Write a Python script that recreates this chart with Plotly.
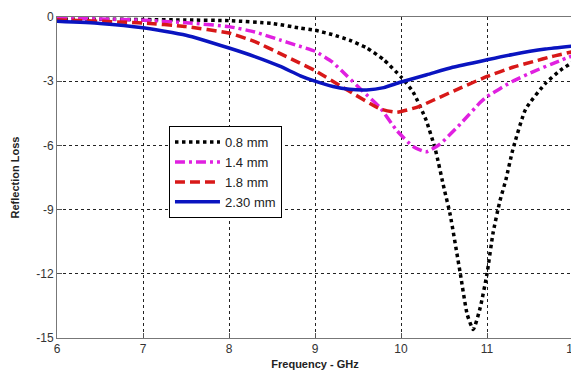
import plotly.graph_objects as go

# 0.8 mm
x_08 = [6, 6.5, 7, 7.5, 8, 8.5, 8.83, 9.0, 9.2, 9.4, 9.6, 9.8, 10.0, 10.14, 10.29, 10.4, 10.5, 10.57, 10.69, 10.77, 10.84, 10.92, 11.0, 11.07, 11.15, 11.22, 11.3, 11.45, 11.68, 11.85, 12.0]
y_08 = [-0.1, -0.1, -0.12, -0.14, -0.17, -0.3, -0.52, -0.62, -0.82, -1.08, -1.44, -2.0, -2.8, -3.5, -4.8, -6.2, -8.0, -9.2, -12.0, -13.9, -14.6, -13.6, -12.0, -10.1, -8.6, -7.6, -6.2, -4.3, -3.1, -2.5, -2.1]
# 1.4 mm
x_14 = [6, 7, 7.5, 8, 8.3, 8.59, 8.77, 9.0, 9.2, 9.37, 9.55, 9.76, 9.95, 10.14, 10.29, 10.45, 10.69, 10.92, 11.0, 11.3, 11.54, 11.75, 12]
y_14 = [-0.05, -0.15, -0.27, -0.45, -0.7, -1.07, -1.3, -1.6, -2.1, -2.75, -3.45, -4.25, -5.3, -6.05, -6.3, -5.95, -5.0, -4.0, -3.72, -3.0, -2.55, -2.2, -1.8]
# 1.8 mm
x_18 = [6, 7, 7.5, 8, 8.3, 8.59, 8.77, 9.0, 9.37, 9.76, 9.95, 10.2, 10.38, 10.7, 11.0, 11.3, 11.54, 11.75, 12]
y_18 = [-0.13, -0.28, -0.45, -0.75, -1.15, -1.7, -2.05, -2.5, -3.4, -4.3, -4.45, -4.2, -3.88, -3.3, -2.78, -2.35, -2.08, -1.85, -1.62]
# 2.30 mm
x_23 = [6, 6.5, 7, 7.5, 8, 8.3, 8.59, 8.83, 9.0, 9.21, 9.4, 9.6, 9.8, 9.99, 10.3, 10.6, 11.0, 11.3, 11.68, 12]
y_23 = [-0.2, -0.3, -0.5, -0.85, -1.45, -1.85, -2.3, -2.75, -3.0, -3.25, -3.38, -3.41, -3.3, -3.05, -2.7, -2.35, -2.0, -1.75, -1.5, -1.36]

x_ticks = [6, 7, 8, 9, 10, 11, 12]
y_ticks = [0, -3, -6, -9, -12, -15]

series = [
    ("0.8 mm", x_08, y_08, "#000000", "dot"),
    ("1.4 mm", x_14, y_14, "#e020e0", "10px,4px,3px,4px"),
    ("1.8 mm", x_18, y_18, "#d81818", "10px,5px"),
    ("2.30 mm", x_23, y_23, "#0a14c0", "solid"),
]

fig = go.Figure()
for name, xs, ys, col, dash in series:
    fig.add_trace(go.Scatter(x=xs, y=ys, name=name, mode="lines",
                             line=dict(color=col, width=3.5, dash=dash, shape="spline", smoothing=0.5)))

axis_common = dict(showline=True, linecolor="#777777", linewidth=1, mirror=True,
                   ticks="inside", ticklen=5, tickcolor="#555555",
                   showgrid=True, gridcolor="#222222", gridwidth=1, griddash="dot",
                   zeroline=False, automargin=False, ticklabeloverflow="allow",
                   tickfont=dict(family="Liberation Sans, Arial", size=12, color="#333333"))

# page body has an 8px default margin, so the figure is sized/offset to compensate
fig.update_layout(
    width=571, height=366,
    margin=dict(l=49, r=6, t=9, b=36),
    paper_bgcolor="white", plot_bgcolor="white",
    xaxis=dict(range=[6, 12], tickvals=x_ticks, ticktext=[str(v) for v in x_ticks],
               title=dict(text="<b>Frequency - GHz</b>", font=dict(family="Liberation Sans, Arial", size=11, color="#222222"), standoff=4),
               **axis_common),
    yaxis=dict(range=[-15, 0], tickvals=y_ticks, ticktext=[str(v) for v in y_ticks],
               title=dict(text="<b>Reflection Loss</b>", font=dict(family="Liberation Sans, Arial", size=11, color="#222222"), standoff=14),
               **axis_common),
    legend=dict(x=0.217, y=0.66, xanchor="left", yanchor="top",
                bgcolor="white", bordercolor="#000000", borderwidth=1,
                font=dict(family="Liberation Sans, Arial", size=13, color="#222222"),
                tracegroupgap=0, itemwidth=45),
    showlegend=True,
)

fig.write_html("out.html")
